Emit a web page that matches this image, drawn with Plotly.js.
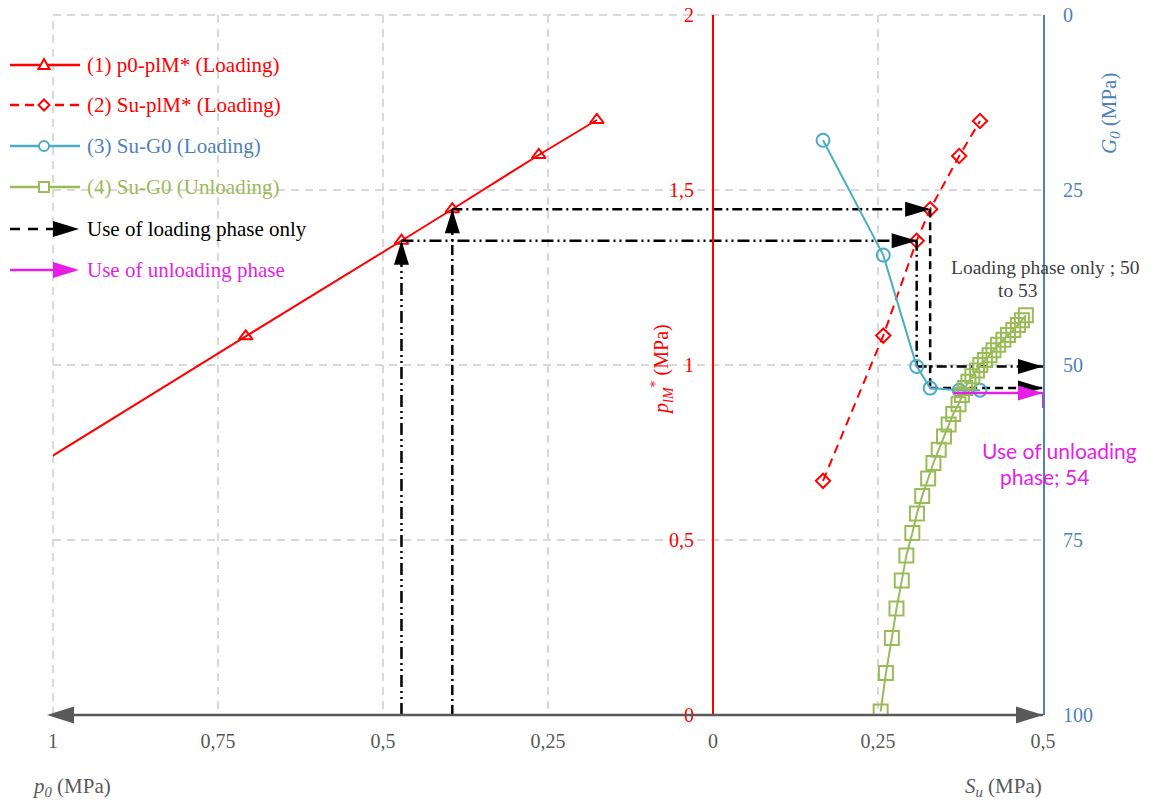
<!DOCTYPE html>
<html><head><meta charset="utf-8">
<script src="https://cdn.plot.ly/plotly-3.0.1.min.js"></script>
<style>body{margin:0;background:#fff}</style>
</head><body>
<div id="chart" style="width:1172px;height:803px"></div>
<script>
// ---------------- data ----------------
const seriesNames = ['(1) p0-plM* (Loading)', '(2) Su-plM* (Loading)', '(3) Su-G0 (Loading)', '(4) Su-G0 (Unloading)', 'Use of loading phase only', 'Use of unloading phase'];
// (1) p0 - plM* loading (last point lies beyond the axis range)
const p0Load = [0.176, 0.264, 0.395, 0.472, 0.708, 1.062];
const plmLoadP0 = [1.700, 1.600, 1.445, 1.355, 1.082, 0.669];
// (2) Su - plM* loading
const suLoad = [0.1667, 0.258, 0.3086, 0.329, 0.373, 0.4045];
const plmLoadSu = [0.669, 1.084, 1.355, 1.445, 1.597, 1.697];
// (3) Su - G0 loading
const g0Load = [17.9, 34.3, 50.2, 53.3, 53.6, 53.6];
// (4) Su - G0 unloading
const suUnload = [0.254, 0.262, 0.271, 0.278, 0.286, 0.293, 0.302, 0.309, 0.317, 0.326, 0.334, 0.342, 0.350, 0.357, 0.364, 0.372,
                  0.377, 0.382, 0.387, 0.393, 0.400, 0.405, 0.412, 0.419, 0.425, 0.432, 0.440, 0.447, 0.455, 0.462, 0.468, 0.474];
const g0Unload = [99.5, 94.0, 89.0, 84.8, 80.8, 77.2, 74.0, 71.2, 68.7, 66.2, 64.0, 62.1, 60.2, 58.5, 57.0, 55.6,
                  54.3, 53.3, 52.4, 51.6, 50.8, 50.0, 49.3, 48.6, 47.9, 47.1, 46.4, 45.7, 45.0, 44.3, 43.6, 42.9];
// reading paths (indices into the loading series)
const pathA = {p0Idx: 3, suIdx: 2};   // 50
const pathB = {p0Idx: 2, suIdx: 3};   // 53
// unloading reading
const unloadArrowSu = [0.364, 0.5];
const unloadArrowG0 = [54, 54];
// ticks
const xTickVals = [-1, -0.75, -0.5, -0.25, 0, 0.25, 0.5];
const xTickText = ['1', '0,75', '0,5', '0,25', '0', '0,25', '0,5'];
const plmTickVals = [0, 0.5, 1, 1.5, 2];
const plmTickText = ['0', '0,5', '1', '1,5', '2'];
const g0TickVals = [0, 25, 50, 75, 100];
const g0TickText = ['0', '25', '50', '75', '100'];

// ---------------- style ----------------
const RED = '#ff0000', BLUE = '#4bacc6', BLUEAX = '#4f81bd', GREEN = '#9bbb59', MAG = '#e61ee6', GREY = '#595959';
const SERIF = 'Liberation Serif, Times New Roman, serif';
const SANS = 'Lato, Open Sans, sans-serif';
const L = 53, R = 129, T = 15, B = 88, PW = 1172 - L - R, PH = 803 - T - B;
const pxX = px => (px - L) / PW;
const pxY = py => (803 - B - py) / PH;
const plmFromG0 = g => 2 * (1 - g / 100);
const dashDotDot = '12px,4px,2px,4px,2px,4px';
const dashDot = '10px,4px,2px,4px';
const dashed = '8px,5px';

const traces = [];
traces.push({x: p0Load.map(v => -v), y: plmLoadP0, mode: 'lines+markers', name: seriesNames[0],
  line: {color: RED, width: 2}, marker: {symbol: 'triangle-up-open', size: 12, color: RED, line: {width: 2, color: RED}}});
traces.push({x: suLoad, y: plmLoadSu, mode: 'lines+markers', name: seriesNames[1],
  line: {color: RED, width: 2, dash: '9px,6px'}, marker: {symbol: 'diamond-open', size: 11, color: RED, line: {width: 2, color: RED}}});
traces.push({x: suLoad, y: g0Load, yaxis: 'y2', mode: 'lines+markers', name: seriesNames[2],
  line: {color: BLUE, width: 2}, marker: {symbol: 'circle-open', size: 13, color: BLUE, line: {width: 2, color: BLUE}}});
traces.push({x: suUnload, y: g0Unload, yaxis: 'y2', mode: 'lines+markers', name: seriesNames[3],
  line: {color: GREEN, width: 2}, marker: {symbol: 'square-open', size: 14, color: GREEN, line: {width: 2, color: GREEN}}});

function readPath(p, dUp, dDown) {
  const xp = -p0Load[p.p0Idx], yp = plmLoadP0[p.p0Idx];
  const xs = suLoad[p.suIdx], yg = plmFromG0(g0Load[p.suIdx]);
  const seg = (x, y, d) => ({x, y, mode: 'lines', showlegend: false, hoverinfo: 'skip', line: {color: '#000', width: 2.5, dash: d}});
  return [seg([xp, xp], [0, yp], dUp), seg([xp, xs], [yp, yp], dUp), seg([xs, xs], [yp, yg], dDown), seg([xs, 0.5], [yg, yg], dDown)];
}
traces.push(...readPath(pathA, dashDotDot, dashDot));
traces.push(...readPath(pathB, dashDot, dashed));
traces.push({x: unloadArrowSu, y: unloadArrowG0, yaxis: 'y2', mode: 'lines', showlegend: false, line: {color: MAG, width: 2.5}});

// ---------------- shapes ----------------
function head(xref, yref, x, y, dir, color, len, wid, off) {
  off = off || 0; const h = wid / 2; let p;
  if (dir === 'right') p = `M${off},0 L${off - len},${h} L${off - len},${-h} Z`;
  if (dir === 'left') p = `M${-off},0 L${-off + len},${h} L${-off + len},${-h} Z`;
  if (dir === 'up') p = `M0,${off} L${-h},${off - len} L${h},${off - len} Z`;
  return {type: 'path', xref, yref, xsizemode: 'pixel', ysizemode: 'pixel', xanchor: x, yanchor: y, path: p,
    fillcolor: color, line: {width: 0, color}, layer: 'above'};
}
const shapes = [];
// extra grid lines on the plot edges (left and top)
shapes.push({type: 'line', xref: 'paper', yref: 'paper', x0: 0, x1: 0, y0: 0, y1: 1, line: {color: '#d9d9d9', width: 2, dash: '8px,6px'}, layer: 'below'});
shapes.push({type: 'line', xref: 'paper', yref: 'paper', x0: 0, x1: 1, y0: 1, y1: 1, line: {color: '#d9d9d9', width: 2, dash: '8px,6px'}, layer: 'below'});
// bottom double arrow axis (paper refs so the heads are not clipped)
shapes.push({type: 'line', xref: 'paper', yref: 'paper', x0: 0, x1: 1, y0: 0, y1: 0, line: {color: GREY, width: 2.5}, layer: 'above'});
shapes.push(head('paper', 'paper', 0, 0, 'left', GREY, 27, 17, 6));
shapes.push(head('paper', 'paper', 1, 0, 'right', GREY, 27, 17, 0));
// reading arrowheads
[pathA, pathB].forEach(p => {
  shapes.push(head('x', 'y', -p0Load[p.p0Idx], plmLoadP0[p.p0Idx], 'up', '#000', 24, 15));
  shapes.push(head('x', 'y', suLoad[p.suIdx], plmLoadP0[p.p0Idx], 'right', '#000', 25, 15));
  shapes.push(head('x', 'y2', 0.5, g0Load[p.suIdx], 'right', '#000', 25, 15));
});
shapes.push(head('x', 'y2', unloadArrowSu[1], unloadArrowG0[1], 'right', MAG, 25, 15));
shapes.push({type: 'line', xref: 'x', yref: 'y2', xsizemode: 'pixel', ysizemode: 'pixel', xanchor: unloadArrowSu[1], yanchor: unloadArrowG0[1],
  x0: 0, x1: 0, y0: 0, y1: -15, line: {color: MAG, width: 2}, layer: 'above'});

// ---------------- manual legend ----------------
const legendColors = [RED, RED, BLUEAX, GREEN, '#000', MAG];
const lineColors = [RED, RED, BLUE, GREEN, '#000', MAG];
const rowY = [65, 105, 146, 187, 229, 270];
const annotations = [];
rowY.forEach((py, i) => {
  const y = pxY(py);
  const base = {xref: 'paper', yref: 'paper', layer: 'above'};
  if (i < 4) {
    shapes.push(Object.assign({type: 'line', x0: pxX(10), x1: pxX(80), y0: y, y1: y,
      line: {color: lineColors[i], width: 2.5, dash: i === 1 ? '9px,6px' : 'solid'}}, base));
    const m = Object.assign({xsizemode: 'pixel', ysizemode: 'pixel', xanchor: pxX(44), yanchor: y,
      fillcolor: '#fff', line: {color: lineColors[i], width: 2}}, base);
    if (i === 0) Object.assign(m, {type: 'path', path: 'M0,6 L5.5,-4 L-5.5,-4 Z'});
    if (i === 1) Object.assign(m, {type: 'path', path: 'M0,5.5 L5.5,0 L0,-5.5 L-5.5,0 Z'});
    if (i === 2) Object.assign(m, {type: 'circle', x0: -5, x1: 5, y0: -5, y1: 5});
    if (i === 3) Object.assign(m, {type: 'rect', x0: -5, x1: 5, y0: -5, y1: 5});
    shapes.push(m);
  } else {
    shapes.push(Object.assign({type: 'line', x0: pxX(10), x1: pxX(58), y0: y, y1: y,
      line: {color: lineColors[i], width: 2.5, dash: i === 4 ? '10px,8px' : 'solid'}}, base));
    shapes.push(head('paper', 'paper', pxX(79), y, 'right', lineColors[i], 26, 16));
  }
  annotations.push({xref: 'paper', yref: 'paper', x: pxX(85), y, xanchor: 'left', yanchor: 'middle', showarrow: false,
    text: seriesNames[i], font: {family: SERIF, size: 21, color: legendColors[i]}});
});

// ---------------- text annotations ----------------
const ann = (px, py, text, font, extra) => Object.assign({xref: 'paper', yref: 'paper', x: pxX(px), y: pxY(py),
  showarrow: false, text, font, xanchor: 'center', yanchor: 'middle'}, extra || {});
annotations.push(ann(30, 787, '<i>p<sub>0</sub></i> (MPa)', {family: SERIF, size: 21, color: GREY}, {xanchor: 'left'}));
annotations.push(ann(963, 787, '<i>S<sub>u</sub></i> (MPa)', {family: SERIF, size: 21, color: GREY}, {xanchor: 'left'}));
annotations.push(ann(662, 370, '<i>p<sub>lM</sub></i><sup>*</sup> (MPa)', {family: SERIF, size: 20, color: RED}, {textangle: -90}));
annotations.push(ann(1110, 114, '<i>G<sub>0</sub></i> (MPa)', {family: SERIF, size: 21, color: BLUEAX}, {textangle: -90}));
annotations.push(ann(1045, 267, 'Loading phase only ; 50', {family: SERIF, size: 19.5, color: '#404040'}));
annotations.push(ann(1018, 291, 'to 53', {family: SERIF, size: 19.5, color: '#404040'}));
annotations.push(ann(1059, 450, 'Use of unloading', {family: SANS, size: 21, color: MAG}));
annotations.push(ann(1044, 477, 'phase; 54', {family: SANS, size: 21, color: MAG}));

const grid = {showgrid: true, gridcolor: '#d9d9d9', griddash: '8px,6px', gridwidth: 2};
const layout = {
  width: 1172, height: 803, margin: {l: L, r: R, t: T, b: B},
  font: {family: SERIF, size: 20, color: GREY},
  paper_bgcolor: '#fff', plot_bgcolor: '#fff', showlegend: false,
  xaxis: Object.assign({range: [-1, 0.5], tickvals: xTickVals, ticktext: xTickText, zeroline: false, showline: false,
    ticks: '', ticklabelstandoff: 12, tickfont: {family: SERIF, size: 20, color: GREY}}, grid),
  yaxis: Object.assign({range: [0, 2], tickvals: plmTickVals, ticktext: plmTickText, anchor: 'free', position: pxX(713),
    side: 'left', showline: true, linecolor: RED, linewidth: 2, zeroline: false, ticks: '', ticklabelstandoff: 14,
    tickfont: {family: SERIF, size: 20, color: RED}}, grid),
  yaxis2: {range: [100, 0], overlaying: 'y', side: 'right', anchor: 'x', tickvals: g0TickVals, ticktext: g0TickText,
    showline: true, linecolor: BLUEAX, linewidth: 2, showgrid: false, zeroline: false, ticks: '', ticklabelstandoff: 14,
    tickfont: {family: SERIF, size: 20, color: BLUEAX}},
  shapes, annotations
};
Plotly.newPlot('chart', traces, layout, {displayModeBar: false, staticPlot: true});
</script>
</body></html>
